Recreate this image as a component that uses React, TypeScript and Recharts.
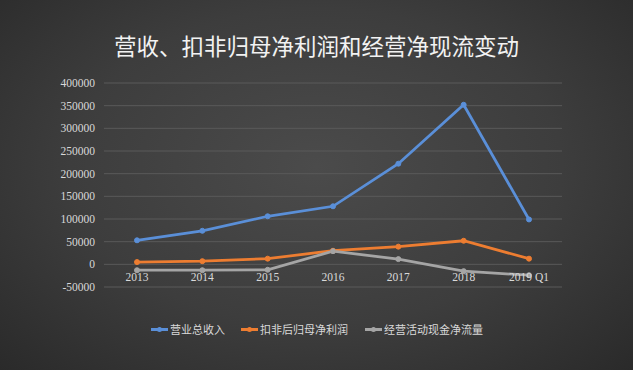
import { CartesianGrid, Line, LineChart, XAxis, YAxis } from "recharts";

const years = ["2013", "2014", "2015", "2016", "2017", "2018", "2019 Q1"];
const revenue = [53000, 74000, 106000, 128000, 222000, 352000, 99000]; // 营业总收入
const netProfit = [5000, 7000, 12500, 30000, 39000, 52000, 12500]; // 扣非后归母净利润
const cashFlow = [-13000, -13000, -12000, 29000, 11500, -15000, -24000]; // 经营活动现金净流量
const yTicks = [-50000, 0, 50000, 100000, 150000, 200000, 250000, 300000, 350000, 400000];

const seriesNames = ["营业总收入", "扣非后归母净利润", "经营活动现金净流量"];
const seriesColors = ["#5a8fd8", "#ed7d31", "#a5a5a5"];

const data = years.map((year, i) => ({
  year,
  revenue: revenue[i],
  netProfit: netProfit[i],
  cashFlow: cashFlow[i],
}));

const serif = '"Liberation Serif", "DejaVu Serif", serif';
const cjk = '"Noto Sans CJK SC", sans-serif';

function YearTick({ x, y, payload }: { x?: number; y?: number; payload?: { value: string } }) {
  return (
    <text x={x} y={(y ?? 0) - 6} textAnchor="middle" fill="#d9d9d9" fontSize={11.5} fontFamily={serif}>
      {payload?.value}
    </text>
  );
}

function ValueTick({ x, y, payload }: { x?: number; y?: number; payload?: { value: number } }) {
  return (
    <text x={x} y={(y ?? 0) + 4} textAnchor="end" fill="#d9d9d9" fontSize={11.5} fontFamily={serif}>
      {payload?.value}
    </text>
  );
}

function LegendRow() {
  const lefts = [151, 241, 365];
  return (
    <>
      {seriesNames.map((name, i) => (
        <div
          key={name}
          style={{
            position: "absolute",
            left: lefts[i],
            top: 321,
            display: "flex",
            alignItems: "center",
            gap: 2,
            fontFamily: cjk,
            fontSize: 11,
            color: "#d9d9d9",
          }}
        >
          <span style={{ position: "relative", width: 17, height: 16, display: "inline-block" }}>
            <span style={{ position: "absolute", left: 0, top: 7, width: 17, height: 2.5, background: seriesColors[i] }} />
            <span
              style={{
                position: "absolute",
                left: 6,
                top: 5.5,
                width: 5,
                height: 5,
                borderRadius: "50%",
                background: seriesColors[i],
              }}
            />
          </span>
          {name}
        </div>
      ))}
    </>
  );
}

export default function App() {
  const dot = (color: string) => ({ r: 2.5, fill: color, stroke: color, strokeWidth: 1 });
  return (
    <div
      style={{
        position: "absolute",
        left: 0,
        top: 0,
        width: 633,
        height: 370,
        background: "radial-gradient(ellipse at 50% 45%, #4b4b4b 0%, #3d3d3d 55%, #2a2a2a 100%)",
        overflow: "hidden",
      }}
    >
      <div
        style={{
          position: "absolute",
          top: 30,
          left: 0,
          width: 633,
          textAlign: "center",
          fontFamily: cjk,
          fontSize: 22.5,
          color: "#f2f2f2",
          lineHeight: "30px",
        }}
      >
        营收、扣非归母净利润和经营净现流变动
      </div>
      <LineChart width={633} height={370} data={data} margin={{ top: 83, right: 71, bottom: 63, left: 44 }}>
        <CartesianGrid stroke="#5a5a5a" vertical={false} />
        <XAxis
          dataKey="year"
          axisLine={false}
          tickLine={false}
          tickSize={0}
          tickMargin={0}
          height={20}
          interval={0}
          padding={{ left: 33, right: 33 }}
          tick={<YearTick />}
        />
        <YAxis
          domain={[-50000, 400000]}
          ticks={yTicks}
          interval={0}
          axisLine={false}
          tickLine={false}
          tickSize={0}
          tickMargin={9}
          width={60}
          tick={<ValueTick />}
        />
        <Line
          dataKey="revenue"
          name={seriesNames[0]}
          stroke={seriesColors[0]}
          strokeWidth={2.75}
          dot={dot(seriesColors[0])}
          isAnimationActive={false}
        />
        <Line
          dataKey="netProfit"
          name={seriesNames[1]}
          stroke={seriesColors[1]}
          strokeWidth={2.75}
          dot={dot(seriesColors[1])}
          isAnimationActive={false}
        />
        <Line
          dataKey="cashFlow"
          name={seriesNames[2]}
          stroke={seriesColors[2]}
          strokeWidth={2.75}
          dot={dot(seriesColors[2])}
          isAnimationActive={false}
        />
      </LineChart>
      <LegendRow />
    </div>
  );
}
